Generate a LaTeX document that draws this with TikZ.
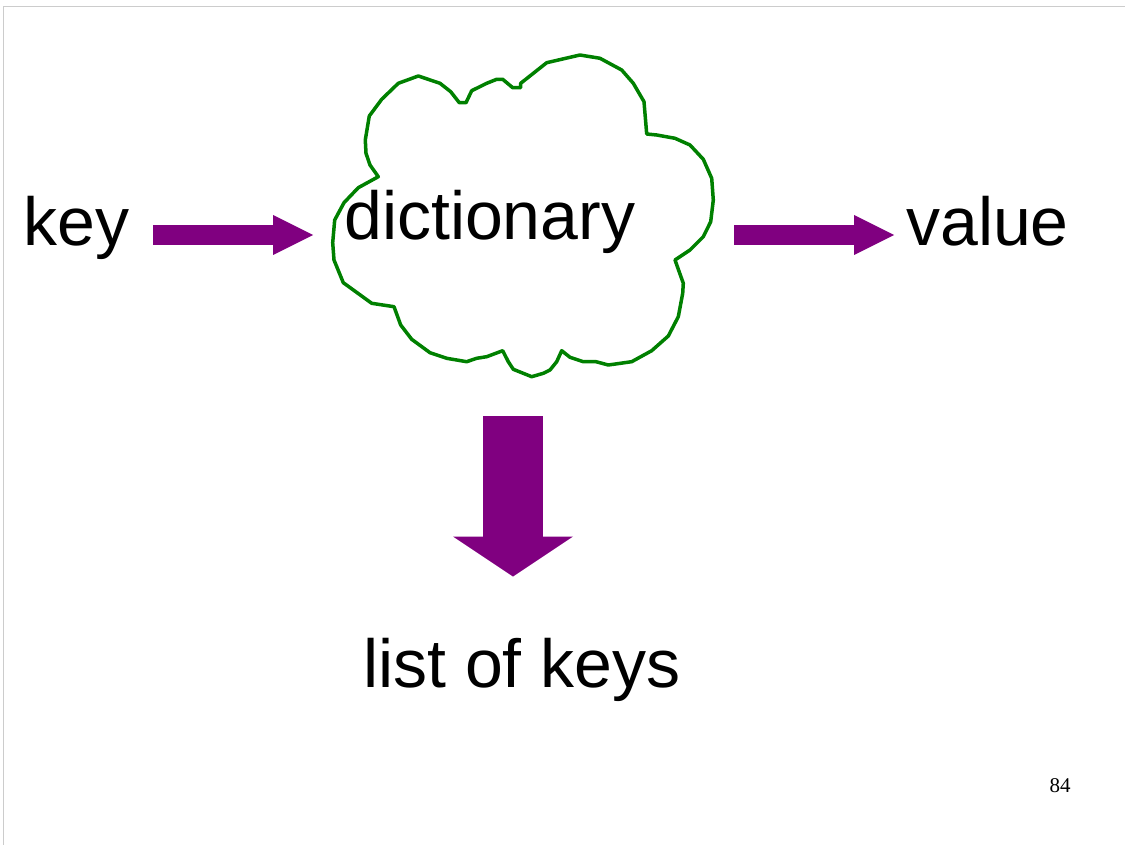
\documentclass[tikz,border=0pt]{standalone}
\usepackage{fontspec}
\setmainfont{Liberation Sans}
\newfontfamily\pagefont{Liberation Serif}
\usetikzlibrary{arrows.meta}
\definecolor{cloudgreen}{RGB}{0,128,0}
\definecolor{arrowpurple}{RGB}{128,0,128}
\definecolor{framegray}{RGB}{204,204,204}

\begin{document}
\begin{tikzpicture}[x=1pt,y=-1pt,
    word/.style={inner sep=0pt,anchor=base west,font=\fontsize{68}{80}\selectfont},
    side arrow/.style={draw=arrowpurple,line width=20pt,-{Triangle[length=40pt,width=40pt,line width=0pt]}},
    down arrow/.style={draw=arrowpurple,line width=60pt,-{Triangle[length=40pt,width=120pt,line width=0pt]}}]
  \useasboundingbox (0,0) rectangle (1125,845);
  \draw[framegray,line width=1pt] (3.5,845) -- (3.5,6.5) -- (1125,6.5);

  % the cloud
  \draw[cloudgreen,line width=3.5pt,line join=round]
    (378.3,176.7) -- (370,165) -- (366,153.3) -- (365.3,140) -- (369.3,116)
    -- (381.7,99.3) -- (398.3,83.3) -- (418.3,76) -- (440,83.3) -- (450.7,91.7)
    -- (459.3,102.7) -- (466,102.7) -- (471.7,90.7) -- (486.7,83.3) -- (496.7,79.3)
    -- (502.7,79.3) -- (512.7,87.7) -- (520.7,87.7) -- (520.7,83.3) -- (546.7,62.7)
    -- (580,55) -- (600,58.3) -- (621.7,70) -- (633.3,83.3) -- (644,101.7)
    -- (646.7,134) -- (656.7,135) -- (675,138.3) -- (690,145) -- (703.3,159.3)
    -- (711.7,178.3) -- (713.3,200) -- (710.7,221.7) -- (703.3,236.7) -- (690,250)
    -- (675,260) -- (683.3,283.3) -- (682.7,293.3) -- (678.3,316.7) -- (668.3,336)
    -- (651.7,350.7) -- (631.7,361.7) -- (608.3,365) -- (596,361.7) -- (583.3,361.7)
    -- (570,357.3) -- (561.7,350.7) -- (556.7,361.7) -- (550,370) -- (543.3,373.3)
    -- (531.7,376.7) -- (513.3,369.3) -- (508.3,361.7) -- (502.7,350.7) -- (486.7,356.7)
    -- (476.7,358.3) -- (466.7,361.7) -- (446.7,358.3) -- (430,352.7) -- (411.7,339.3)
    -- (400.7,325) -- (394,306.7) -- (371.7,303.3) -- (343.3,282.7) -- (334,260)
    -- (332.7,242.7) -- (334.7,220) -- (344,202.7) -- (358.3,187.7) -- cycle;
  \coordinate (cloudbottom) at (513,377);

  \node[word] (key) at (23,246) {key};
  \node[word] (dict) at (344,240) {dictionary};
  \node[word] (value) at (906,246) {value};
  \node[word] (keys) at (363,687) {list of keys};
  \node[font=\pagefont\fontsize{21}{24}\selectfont] (page) at (1060,786) {84};

  \draw[side arrow,shorten <=24pt,shorten >=31pt] ([yshift=11pt]key.base east) -- ([yshift=5pt]dict.base west);
  \draw[side arrow,shorten <=99pt,shorten >=12pt] ([yshift=5pt]dict.base east) -- ([yshift=11pt]value.base west);
  \draw[down arrow,shorten <=39pt,shorten >=61pt] (cloudbottom) -- (cloudbottom |- keys.north);
\end{tikzpicture}
\end{document}
